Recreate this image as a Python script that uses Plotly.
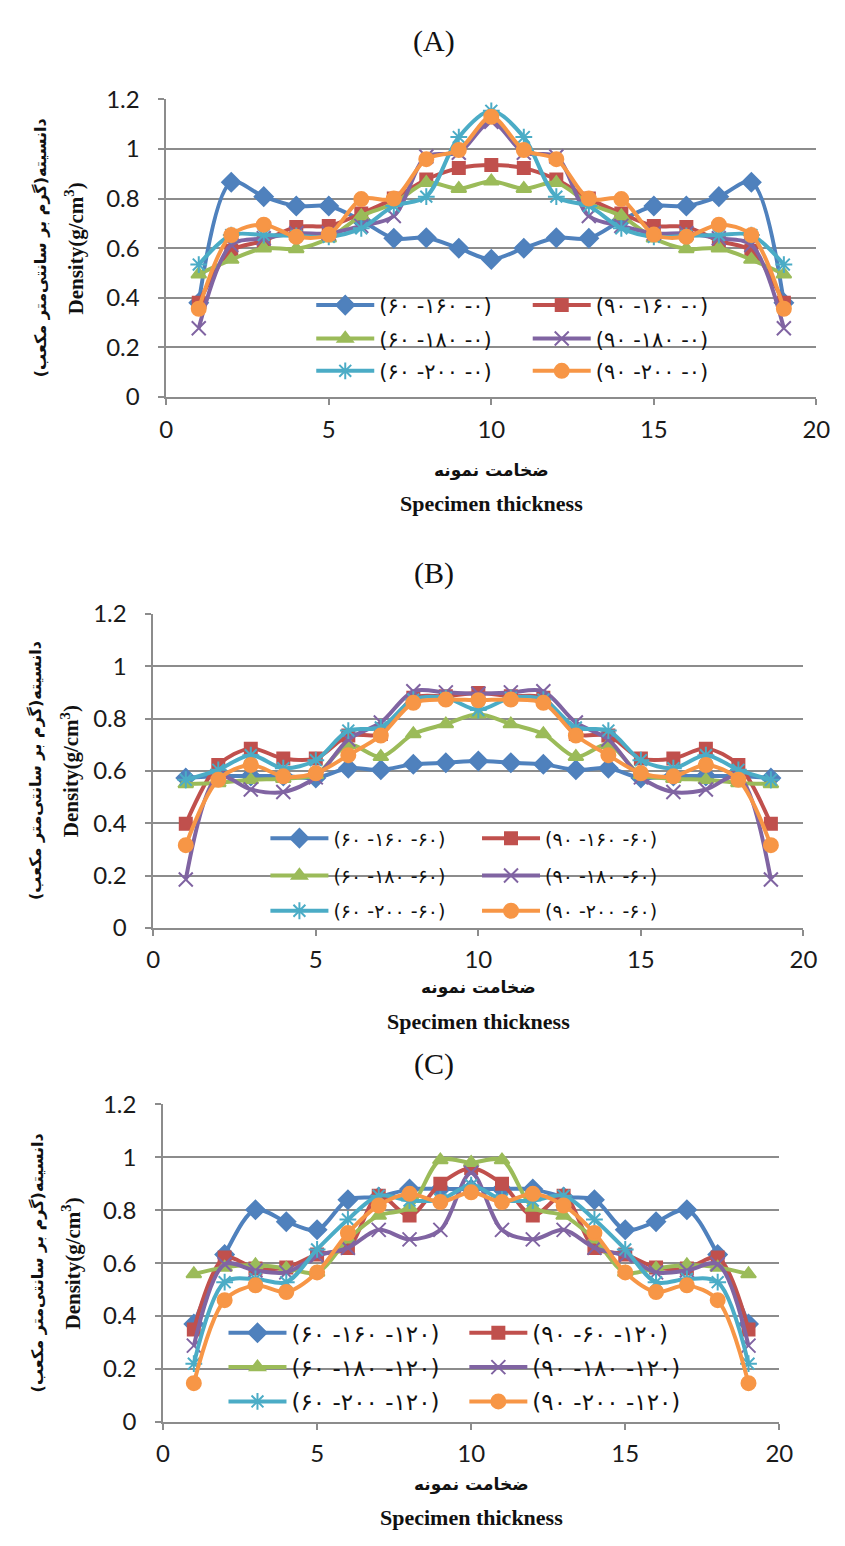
import plotly.graph_objects as go

# ---------------- data ----------------
thickness = list(range(1, 20))

x_ticks = [0, 5, 10, 15, 20]
y_ticks = [0, 0.2, 0.4, 0.6, 0.8, 1.0, 1.2]
y_tick_text = ["0", "0.2", "0.4", "0.6", "0.8", "1", "1.2"]

# Chart A
A_labels = ["(۶۰ -۱۶۰ -۰)", "(۹۰ -۱۶۰ -۰)", "(۶۰ -۱۸۰ -۰)",
            "(۹۰ -۱۸۰ -۰)", "(۶۰ -۲۰۰ -۰)", "(۹۰ -۲۰۰ -۰)"]
A_60_160 = [0.38, 0.866, 0.808, 0.77, 0.77, 0.712, 0.64, 0.642, 0.60, 0.555,
            0.60, 0.642, 0.64, 0.712, 0.77, 0.77, 0.808, 0.866, 0.38]
A_90_160 = [0.38, 0.59, 0.63, 0.686, 0.69, 0.74, 0.80, 0.877, 0.923, 0.936,
            0.923, 0.877, 0.80, 0.74, 0.69, 0.686, 0.63, 0.59, 0.38]
A_60_180 = [0.495, 0.554, 0.60, 0.597, 0.64, 0.73, 0.78, 0.864, 0.84, 0.87,
            0.84, 0.864, 0.78, 0.73, 0.64, 0.597, 0.60, 0.554, 0.495]
A_90_180 = [0.277, 0.613, 0.64, 0.66, 0.66, 0.69, 0.73, 0.97, 0.985, 1.11,
            0.985, 0.97, 0.73, 0.69, 0.66, 0.66, 0.64, 0.613, 0.277]
A_60_200 = [0.534, 0.653, 0.653, 0.65, 0.646, 0.68, 0.77, 0.808, 1.048, 1.154,
            1.048, 0.808, 0.77, 0.68, 0.646, 0.65, 0.653, 0.653, 0.534]
A_90_200 = [0.356, 0.653, 0.695, 0.646, 0.655, 0.798, 0.80, 0.959, 0.996, 1.13,
            0.996, 0.959, 0.80, 0.798, 0.655, 0.646, 0.695, 0.653, 0.356]

# Chart B
B_labels = ["(۶۰ -۱۶۰ -۶۰)", "(۹۰ -۱۶۰ -۶۰)", "(۶۰ -۱۸۰ -۶۰)",
            "(۹۰ -۱۸۰ -۶۰)", "(۶۰ -۲۰۰ -۶۰)", "(۹۰ -۲۰۰ -۶۰)"]
B_60_160 = [0.5725, 0.58, 0.58, 0.58, 0.573, 0.61, 0.604, 0.625, 0.631, 0.6375,
            0.631, 0.625, 0.604, 0.61, 0.573, 0.58, 0.58, 0.58, 0.5725]
B_90_160 = [0.3975, 0.6225, 0.685, 0.6475, 0.6475, 0.735, 0.741, 0.879, 0.885, 0.8975,
            0.885, 0.879, 0.741, 0.735, 0.6475, 0.6475, 0.685, 0.6225, 0.3975]
B_60_180 = [0.55, 0.554, 0.566, 0.57, 0.585, 0.70, 0.654, 0.741, 0.779, 0.816,
            0.779, 0.741, 0.654, 0.70, 0.585, 0.57, 0.566, 0.554, 0.55]
B_90_180 = [0.185, 0.579, 0.529, 0.519, 0.575, 0.72, 0.785, 0.904, 0.90, 0.895,
            0.90, 0.904, 0.785, 0.72, 0.575, 0.519, 0.529, 0.579, 0.185]
B_60_200 = [0.566, 0.604, 0.66, 0.61, 0.641, 0.754, 0.766, 0.8725, 0.879, 0.8325,
            0.879, 0.8725, 0.766, 0.754, 0.641, 0.61, 0.66, 0.604, 0.566]
B_90_200 = [0.316, 0.566, 0.6225, 0.579, 0.591, 0.66, 0.735, 0.86, 0.8725, 0.87,
            0.8725, 0.86, 0.735, 0.66, 0.591, 0.579, 0.6225, 0.566, 0.316]

# Chart C
C_labels = ["(۶۰ -۱۶۰ -۱۲۰)", "(۹۰ -۶۰ -۱۲۰)", "(۶۰ -۱۸۰ -۱۲۰)",
            "(۹۰ -۱۸۰ -۱۲۰)", "(۶۰ -۲۰۰ -۱۲۰)", "(۹۰ -۲۰۰ -۱۲۰)"]
C_60_160 = [0.37, 0.633, 0.802, 0.757, 0.726, 0.84, 0.85, 0.88, 0.88, 0.88,
            0.88, 0.88, 0.85, 0.84, 0.726, 0.757, 0.802, 0.633, 0.37]
C_90_60 = [0.349, 0.621, 0.58, 0.584, 0.633, 0.657, 0.855, 0.78, 0.90, 0.96,
           0.90, 0.78, 0.855, 0.657, 0.633, 0.584, 0.58, 0.621, 0.349]
C_60_180 = [0.559, 0.584, 0.593, 0.58, 0.565, 0.69, 0.78, 0.81, 0.99, 0.98,
            0.99, 0.81, 0.78, 0.69, 0.565, 0.58, 0.593, 0.584, 0.559]
C_90_180 = [0.288, 0.596, 0.572, 0.565, 0.627, 0.658, 0.726, 0.69, 0.726, 0.942,
            0.726, 0.69, 0.726, 0.658, 0.627, 0.565, 0.572, 0.596, 0.288]
C_60_200 = [0.22, 0.528, 0.54, 0.528, 0.652, 0.765, 0.855, 0.837, 0.84, 0.895,
            0.84, 0.837, 0.855, 0.765, 0.652, 0.528, 0.54, 0.528, 0.22]
C_90_200 = [0.146, 0.46, 0.516, 0.491, 0.565, 0.714, 0.818, 0.862, 0.831, 0.868,
            0.831, 0.862, 0.818, 0.714, 0.565, 0.491, 0.516, 0.46, 0.146]

panel_titles = ["(A)", "(B)", "(C)"]
x_title_fa = "ضخامت نمونه"
x_title_en = "Specimen thickness"
y_title_fa = "\u200fدانسیته(گرم بر سانتی\u200cمتر مکعب)\u200f"
y_title_en = "Density(g/cm<sup>3</sup>)"

# ---------------- styling ----------------
W, H = 845, 1546
colors = ["#4F81BD", "#C0504D", "#9BBB59", "#8064A2", "#4BACC6", "#F79646"]
symbols = ["diamond", "square", "triangle-up", "x-thin", "asterisk", "circle"]
msizes = [14, 12, 13, 14, 14, 14]
GRID = "#8c8c8c"
TICKFONT = dict(family="Lato, Open Sans, sans-serif", size=24, color="#1a1a1a")
SERIF = "Liberation Serif, Times New Roman, serif"
FA = "DejaVu Sans, sans-serif"


def px_x(p):
    return p / W


def px_y(p):
    return 1 - p / H


panels = [
    dict(series=[A_60_160, A_90_160, A_60_180, A_90_180, A_60_200, A_90_200],
         labels=A_labels, xpx=(163.3, 830.0), ypx=(85.0, 388.3),
         title_y=25, xt_fa=463, xt_en=497, yt_fa=34, yt_en=69,
         leg_cols=(320, 542), leg_rows=(295, 329, 362), leg_size=21),
    dict(series=[B_60_160, B_90_160, B_60_180, B_90_180, B_60_200, B_90_200],
         labels=B_labels, xpx=(150.0, 816.7), ypx=(609.3, 929.3),
         title_y=568, xt_fa=990, xt_en=1025, yt_fa=30, yt_en=65,
         leg_cols=(273, 490), leg_rows=(838, 876, 912), leg_size=19),
    dict(series=[C_60_160, C_90_60, C_60_180, C_90_180, C_60_200, C_90_200],
         labels=C_labels, xpx=(160.0, 792.0), ypx=(1109.3, 1432.7),
         title_y=1068, xt_fa=1497, xt_en=1530, yt_fa=31, yt_en=66,
         leg_cols=(230, 477), leg_rows=(1342, 1377, 1412), leg_size=23),
]

fig = go.Figure()
layout = dict(width=W, height=H, margin=dict(l=0, r=0, t=0, b=0),
              paper_bgcolor="white", plot_bgcolor="white", showlegend=True)
annotations = []
leg_idx = 0


def note(text, xp, yp, font, angle=0):
    return dict(text=text, x=px_x(xp), y=px_y(yp), xref="paper", yref="paper",
                xanchor="center", yanchor="middle", showarrow=False,
                textangle=angle, font=font)


for pi, p in enumerate(panels):
    suffix = "" if pi == 0 else str(pi + 1)
    xa, ya = "x" + suffix, "y" + suffix
    for si, ys in enumerate(p["series"]):
        leg_idx += 1
        lid = "legend" if leg_idx == 1 else "legend%d" % leg_idx
        fig.add_trace(go.Scatter(
            x=thickness, y=ys, xaxis=xa, yaxis=ya, name=p["labels"][si],
            mode="lines+markers",
            line=dict(color=colors[si], width=4, shape="spline", smoothing=0.9),
            marker=dict(symbol=symbols[si], size=msizes[si], color=colors[si],
                        line=dict(color=colors[si], width=2)),
            legend=lid, showlegend=True))
        col = si % 2
        row = si // 2
        layout[lid] = dict(
            x=px_x(p["leg_cols"][col] - 8), y=px_y(p["leg_rows"][row]),
            xanchor="left", yanchor="middle", orientation="h",
            bgcolor="rgba(0,0,0,0)", borderwidth=0, itemwidth=58,
            font=dict(family=FA, size=p["leg_size"], color="#111111"))
    x0, x1 = p["xpx"]
    ytop, ybot = p["ypx"]
    layout["xaxis" + suffix] = dict(
        domain=[px_x(x0), px_x(x1)], range=[0, 20], anchor=ya,
        tickvals=x_ticks, ticktext=[str(v) for v in x_ticks],
        showgrid=False, zeroline=False, showline=True, linecolor=GRID, linewidth=1.6,
        ticks="outside", ticklen=6, tickcolor=GRID, tickwidth=1.6,
        tickfont=TICKFONT, ticklabelstandoff=4)
    layout["yaxis" + suffix] = dict(
        domain=[px_y(ybot), px_y(ytop)], range=[0, 1.2], anchor=xa,
        tickvals=y_ticks, ticktext=y_tick_text,
        showgrid=True, gridcolor=GRID, gridwidth=1.6, zeroline=False,
        showline=True, linecolor=GRID, linewidth=1.6,
        ticks="outside", ticklen=6, tickcolor=GRID, tickwidth=1.6,
        tickfont=TICKFONT, ticklabelstandoff=14)
    cx = (x0 + x1) / 2
    cy = (ytop + ybot) / 2
    annotations += [
        note(panel_titles[pi], 438, p["title_y"],
             dict(family=SERIF, size=30, color="#111111")),
        note("<b>" + x_title_fa + "</b>", cx, p["xt_fa"],
             dict(family=FA, size=17, color="#111111")),
        note("<b>" + x_title_en + "</b>", cx, p["xt_en"],
             dict(family=SERIF, size=22, color="#111111")),
        note("<b>" + y_title_fa + "</b>", p["yt_fa"], cy,
             dict(family=FA, size=16, color="#111111"), -90),
        note("<b>" + y_title_en + "</b>", p["yt_en"], cy,
             dict(family=SERIF, size=21, color="#111111"), -90),
    ]

layout["annotations"] = annotations
fig.update_layout(**layout)
fig.write_html("out.html")
